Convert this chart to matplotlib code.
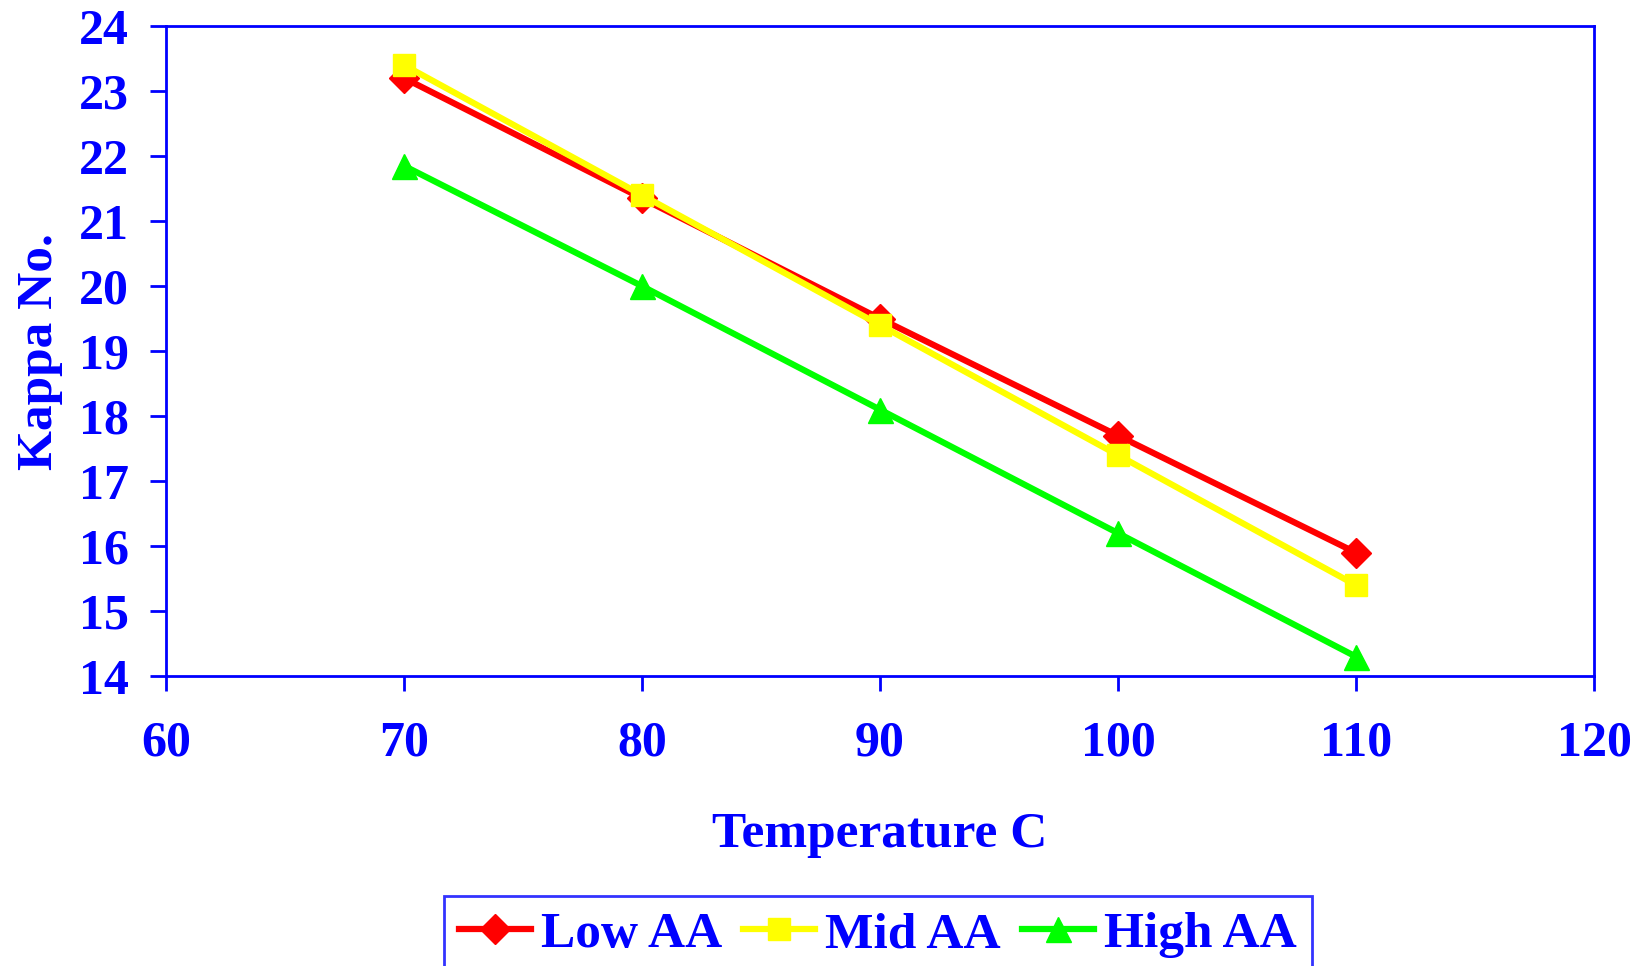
import matplotlib
matplotlib.use("Agg")
from matplotlib import pyplot as plt

temps = [70, 80, 90, 100, 110]
low_aa = [23.2, 21.35, 19.5, 17.7, 15.9]
mid_aa = [23.4, 21.4, 19.4, 17.4, 15.4]
high_aa = [21.85, 20.0, 18.1, 16.2, 14.3]

blue = '#0000FF'
plt.rcParams['font.family'] = ['Liberation Serif', 'DejaVu Serif']
plt.rcParams['font.weight'] = 'bold'

fig = plt.figure(figsize=(16.44, 9.66), dpi=100)
ax = fig.add_axes([0.101, 0.300, 0.8686, 0.673])

ax.plot(temps, low_aa, color='#FF0000', lw=4.5, marker='D', ms=15, label='Low AA')
ax.plot(temps, mid_aa, color='#FFFF00', lw=4.5, marker='s', ms=16, label='Mid AA')
ax.plot(temps, high_aa, color='#00FF00', lw=4.5, marker='^', ms=18, label='High AA')

ax.set_xlim(60, 120)
ax.set_ylim(14, 24)
ax.set_xticks(range(60, 121, 10))
ax.set_yticks(range(14, 25))

for s in ax.spines.values():
    s.set_color(blue)
    s.set_linewidth(2)

ax.tick_params(axis='x', colors=blue, labelsize=36, length=11, width=2, pad=21)
ax.tick_params(axis='y', colors=blue, labelsize=36, length=11.5, width=2, pad=15)
for lab in ax.get_xticklabels() + ax.get_yticklabels():
    lab.set_fontweight('bold')

ax.set_xlabel('Temperature C', color=blue, fontsize=37, fontweight='bold', labelpad=33)
ax.set_ylabel('Kappa No.', color=blue, fontsize=37, fontweight='bold', labelpad=12)

leg = fig.legend(loc='upper center', bbox_to_anchor=(0.534, 1 - 896 / 966), ncol=3,
                 fontsize=37, frameon=True, fancybox=False, handlelength=1.4,
                 columnspacing=0.4, handletextpad=0.2, borderpad=0.3, borderaxespad=0)
leg.get_frame().set_edgecolor(blue)
leg.get_frame().set_linewidth(2)
for t in leg.get_texts():
    t.set_color(blue)
    t.set_fontweight('bold')

fig.savefig('out.png', dpi=100)
